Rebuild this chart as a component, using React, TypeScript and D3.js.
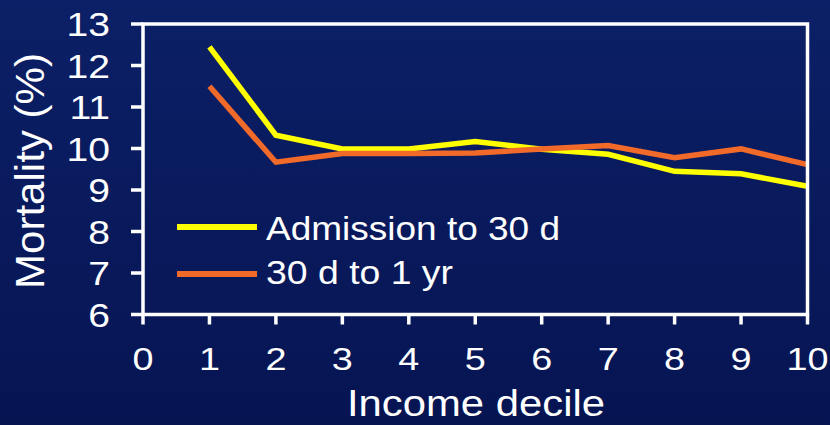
import React from "react";
import * as d3 from "d3";

const deciles = [1, 2, 3, 4, 5, 6, 7, 8, 9, 10];
const admissionTo30d = [12.45, 10.32, 9.99, 9.99, 10.17, 9.98, 9.86, 9.45, 9.39, 9.09];
const d30To1yr = [11.5, 9.67, 9.88, 9.88, 9.89, 9.99, 10.07, 9.78, 9.99, 9.61];
const xTicks = [0, 1, 2, 3, 4, 5, 6, 7, 8, 9, 10];
const yTicks = [6, 7, 8, 9, 10, 11, 12, 13];
const seriesNames = ["Admission to 30 d", "30 d to 1 yr"];
const seriesColors = ["#FFFF00", "#F26A2A"];

const W = 830;
const H = 425;
const FONT = "'Liberation Sans', Arial, sans-serif";

export default function App() {
  const x = d3.scaleLinear().domain([0, 10]).range([143, 807.5]);
  const y = d3.scaleLinear().domain([6, 13]).range([314.5, 24]);
  const line = d3
    .line<number>()
    .x((_, i) => x(deciles[i]))
    .y((v) => y(v));
  const series = [admissionTo30d, d30To1yr];
  const [x0, x1] = x.range();
  const [y0, y1] = y.range();

  return (
    <svg
      width={W}
      height={H}
      style={{ position: "fixed", left: 0, top: 0, display: "block" }}
      fontFamily={FONT}
    >
      <defs>
        <linearGradient id="bg" x1="0" y1="0" x2="0" y2="1">
          <stop offset="0" stopColor="#0c2067" />
          <stop offset="1" stopColor="#061452" />
        </linearGradient>
      </defs>
      <rect x={0} y={0} width={W} height={H} fill="url(#bg)" />

      {/* data lines */}
      {series.map((s, i) => (
        <path
          key={i}
          d={line(s) || ""}
          fill="none"
          stroke={seriesColors[i]}
          strokeWidth={5.5}
          strokeLinejoin="miter"
        />
      ))}

      {/* frame */}
      <rect
        x={x0}
        y={y1}
        width={x1 - x0}
        height={y0 - y1}
        fill="none"
        stroke="#ffffff"
        strokeWidth={3.5}
      />

      {/* y ticks */}
      {yTicks.map((t) => (
        <g key={"y" + t}>
          <line x1={x0 - 12} x2={x0} y1={y(t)} y2={y(t)} stroke="#fff" strokeWidth={3.5} />
          <g transform={`translate(110,${y(t) + 12}) scale(1.15,1)`}>
            <text textAnchor="end" fontSize={34} fill="#fff">
              {t}
            </text>
          </g>
        </g>
      ))}

      {/* x ticks */}
      {xTicks.map((t) => (
        <g key={"x" + t}>
          <line x1={x(t)} x2={x(t)} y1={y0} y2={y0 + 10} stroke="#fff" strokeWidth={3.5} />
          <g transform={`translate(${x(t)},369.5) scale(1.22,1)`}>
            <text textAnchor="middle" fontSize={31} fill="#fff">
              {t}
            </text>
          </g>
        </g>
      ))}

      {/* axis titles */}
      <text
        x={476}
        y={416}
        textAnchor="middle"
        fontSize={37}
        fill="#fff"
        textLength={258}
        lengthAdjust="spacingAndGlyphs"
      >
        Income decile
      </text>
      <text
        transform="translate(44,171) rotate(-90)"
        textAnchor="middle"
        fontSize={41}
        fill="#fff"
        textLength={236}
        lengthAdjust="spacingAndGlyphs"
      >
        Mortality (%)
      </text>

      {/* legend */}
      {seriesNames.map((name, i) => (
        <g key={name}>
          <line
            x1={177}
            x2={257}
            y1={227 + i * 47}
            y2={227 + i * 47}
            stroke={seriesColors[i]}
            strokeWidth={6}
          />
          <text
            x={266}
            y={239.5 + i * 44.5}
            fontSize={34}
            fill="#fff"
            textLength={i === 0 ? 294 : 187}
            lengthAdjust="spacingAndGlyphs"
          >
            {name}
          </text>
        </g>
      ))}
    </svg>
  );
}
